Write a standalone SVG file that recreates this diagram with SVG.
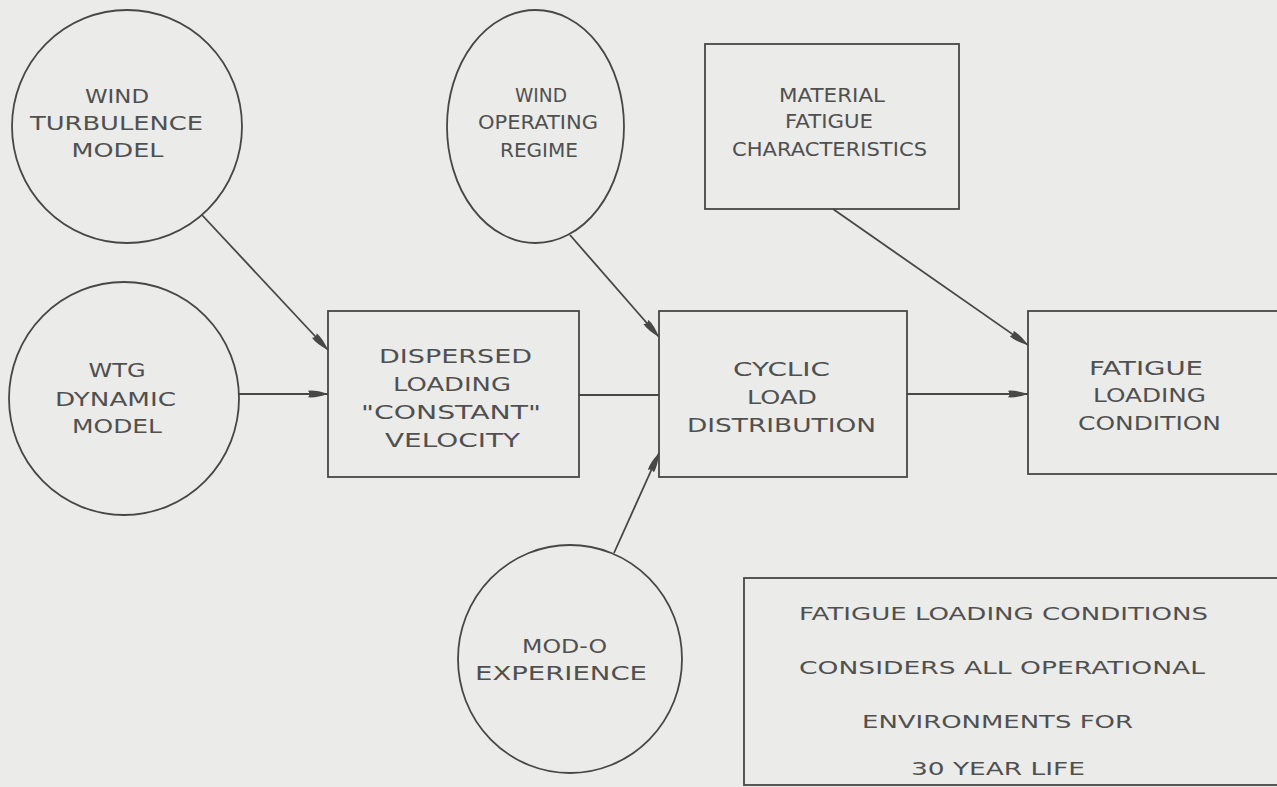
<svg xmlns="http://www.w3.org/2000/svg" width="1277" height="787" viewBox="0 0 1277 787">
<style>
.shape{fill:none;stroke:#474747;stroke-width:1.8}
.conn{fill:none;stroke:#474747;stroke-width:1.8}
text{font-family:"DejaVu Sans","Liberation Sans",sans-serif;font-size:20px;fill:#505050;text-anchor:middle}
.note text{font-size:18px}
</style>
<defs>
<marker id="ah" markerUnits="userSpaceOnUse" viewBox="0 0 20 9" refX="20" refY="4.5" markerWidth="20" markerHeight="9" orient="auto">
<path d="M0,1.2 Q8,0.3 20,4.5 Q8,8.7 0,7.8 Q3,4.5 0,1.2 Z" fill="#474747"/>
</marker>
</defs>
<rect x="0" y="0" width="1277" height="787" fill="#ebebe9"/>
<g id="connectors">
<line class="conn" x1="202" y1="215" x2="328" y2="350" marker-end="url(#ah)"/>
<line class="conn" x1="239" y1="394" x2="328" y2="394" marker-end="url(#ah)"/>
<line class="conn" x1="579" y1="395" x2="659" y2="395"/>
<line class="conn" x1="570" y1="235" x2="659" y2="337" marker-end="url(#ah)"/>
<line class="conn" x1="614" y1="553" x2="659" y2="453" marker-end="url(#ah)"/>
<line class="conn" x1="907" y1="394" x2="1028" y2="394" marker-end="url(#ah)"/>
<line class="conn" x1="833" y1="209" x2="1028" y2="345" marker-end="url(#ah)"/>
</g>
<g id="wind-turbulence">
<ellipse class="shape" cx="127" cy="126.5" rx="115" ry="116.5"/>
<text x="117" y="103" textLength="64" lengthAdjust="spacingAndGlyphs">WIND</text>
<text x="116.5" y="130" textLength="173" lengthAdjust="spacingAndGlyphs">TURBULENCE</text>
<text x="117.5" y="157" textLength="92" lengthAdjust="spacingAndGlyphs">MODEL</text>
</g>
<g id="wtg-dynamic">
<ellipse class="shape" cx="124" cy="398.5" rx="115" ry="116.5"/>
<text x="117" y="377" textLength="57" lengthAdjust="spacingAndGlyphs">WTG</text>
<text x="115.5" y="406" textLength="121" lengthAdjust="spacingAndGlyphs">DYNAMIC</text>
<text x="117" y="433" textLength="90" lengthAdjust="spacingAndGlyphs">MODEL</text>
</g>
<g id="dispersed">
<rect class="shape" x="328" y="311" width="251" height="166"/>
<text x="455.5" y="363" textLength="153" lengthAdjust="spacingAndGlyphs">DISPERSED</text>
<text x="452" y="391" textLength="118" lengthAdjust="spacingAndGlyphs">LOADING</text>
<text x="451" y="419" textLength="180" lengthAdjust="spacingAndGlyphs">"CONSTANT"</text>
<text x="452.5" y="447" textLength="135" lengthAdjust="spacingAndGlyphs">VELOCITY</text>
</g>
<g id="wind-operating">
<ellipse class="shape" cx="535.5" cy="126.5" rx="88.5" ry="116.5"/>
<text x="541" y="102" textLength="52" lengthAdjust="spacingAndGlyphs">WIND</text>
<text x="538" y="129" textLength="120" lengthAdjust="spacingAndGlyphs">OPERATING</text>
<text x="539" y="157" textLength="78" lengthAdjust="spacingAndGlyphs">REGIME</text>
</g>
<g id="cyclic">
<rect class="shape" x="659" y="311" width="248" height="166"/>
<text x="781.5" y="376" textLength="97" lengthAdjust="spacingAndGlyphs">CYCLIC</text>
<text x="782" y="404" textLength="70" lengthAdjust="spacingAndGlyphs">LOAD</text>
<text x="781.5" y="432" textLength="189" lengthAdjust="spacingAndGlyphs">DISTRIBUTION</text>
</g>
<g id="material">
<rect class="shape" x="705" y="44" width="254" height="165"/>
<text x="832" y="102" textLength="106" lengthAdjust="spacingAndGlyphs">MATERIAL</text>
<text x="829" y="128" textLength="88" lengthAdjust="spacingAndGlyphs">FATIGUE</text>
<text x="829.5" y="156" textLength="195" lengthAdjust="spacingAndGlyphs">CHARACTERISTICS</text>
</g>
<g id="fatigue-loading">
<rect class="shape" x="1028" y="311" width="252" height="163"/>
<text x="1146" y="375" textLength="114" lengthAdjust="spacingAndGlyphs">FATIGUE</text>
<text x="1149.5" y="402" textLength="113" lengthAdjust="spacingAndGlyphs">LOADING</text>
<text x="1149.5" y="430" textLength="143" lengthAdjust="spacingAndGlyphs">CONDITION</text>
</g>
<g id="mod-o">
<ellipse class="shape" cx="570" cy="659" rx="112" ry="114"/>
<text x="564.5" y="653" textLength="85" lengthAdjust="spacingAndGlyphs">MOD-O</text>
<text x="561" y="680" textLength="172" lengthAdjust="spacingAndGlyphs">EXPERIENCE</text>
</g>
<g id="note" class="note">
<rect class="shape" x="744" y="578" width="536" height="207"/>
<text x="1003.5" y="620" textLength="409" lengthAdjust="spacingAndGlyphs">FATIGUE LOADING CONDITIONS</text>
<text x="1002" y="674" textLength="406" lengthAdjust="spacingAndGlyphs">CONSIDERS ALL OPERATIONAL</text>
<text x="997.5" y="728" textLength="271" lengthAdjust="spacingAndGlyphs">ENVIRONMENTS FOR</text>
<text x="998" y="775" textLength="174" lengthAdjust="spacingAndGlyphs">30 YEAR LIFE</text>
</g>
</svg>
